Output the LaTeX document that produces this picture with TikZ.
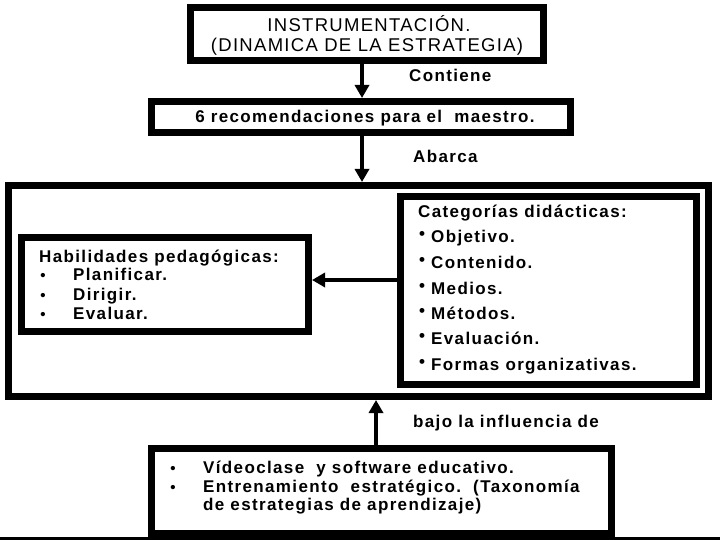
\documentclass[tikz,border=0pt]{standalone}
\usepackage{fontspec}
\setmainfont{Liberation Sans}
\usetikzlibrary{arrows.meta}
\newcommand{\lsp}[1]{\addfontfeatures{LetterSpace=#1}}
\newcommand{\rbul}{\raisebox{3pt}{\textbullet}}
\begin{document}
\begin{tikzpicture}[x=1pt,y=-1pt,
  box/.style={draw=black, line width=7pt, fill=white, rectangle, inner sep=0pt},
  conn/.style={line width=4pt, -{Triangle[length=13pt,width=14pt]}},
  hdr/.style={inner sep=0pt, anchor=base, font=\fontsize{18.5}{20}\selectfont\lsp{7}},
  lbl/.style={inner sep=0pt, anchor=base west, font=\bfseries\fontsize{17}{19}\selectfont\lsp{8}},
  txt/.style={inner sep=0pt, anchor=base west, font=\bfseries\fontsize{17}{19}\selectfont\lsp{8}},
  bul/.style={inner sep=0pt, anchor=base, font=\bfseries\fontsize{15}{18}\selectfont}]
\useasboundingbox (0,0) rectangle (720,540);
\fill[white] (0,0) rectangle (720,540);
% boxes
\node[box, minimum width=353pt, minimum height=53pt] (top) at (367,34) {};
\node[box, minimum width=419pt, minimum height=31pt] (rec) at (361,117) {};
\node[box, minimum width=700pt, minimum height=211pt] (big) at (358.5,291) {};
\node[box, minimum width=287pt, minimum height=94pt] (hab) at (165,284.5) {};
\node[box, minimum width=296pt, minimum height=188pt] (cat) at (548.5,290.5) {};
\node[box, minimum width=460pt, minimum height=85pt] (vid) at (381.5,491) {};
\fill[black] (0,537) rectangle (720,540);
% connector x positions
\coordinate (ax) at (362,0);
\coordinate (bx) at (376,0);
\coordinate (cy) at (0,280);
\draw[conn] (top.south -| ax) -- (rec.north -| ax);
\draw[conn] (rec.south -| ax) -- (big.north -| ax);
\draw[conn] (cat.west |- cy) -- (hab.east |- cy);
\draw[conn] (vid.north -| bx) -- (big.south -| bx);
% top texts
\node[hdr] (t1) at (369,32) {INSTRUMENTACIÓN.};
\node[hdr] (t2) at (367,52) {(DINAMICA DE LA ESTRATEGIA)};
\node[txt, anchor=base] (r1) at (365,123) {6 recomendaciones para el\ \ maestro.};
\node[lbl] (l1) at (409,82) {Contiene};
\node[lbl] (l2) at (413,163) {Abarca};
\node[lbl] (l3) at (413,427) {bajo la influencia de};
% left box
\node[txt] (h0) at (39,262) {Habilidades pedagógicas:};
\node[bul] (hb1) at (43,280) {\textbullet};
\node[bul] (hb2) at (43,300) {\textbullet};
\node[bul] (hb3) at (43,319) {\textbullet};
\node[txt] (h1) at (73,280) {Planificar.};
\node[txt] (h2) at (73,300) {Dirigir.};
\node[txt] (h3) at (73,319) {Evaluar.};
% right box
\node[txt] (c0) at (418,218) {Categorías didácticas:};
\node[txt] (c1) at (419,243) {\rbul\ Objetivo.};
\node[txt] (c2) at (419,268) {\rbul\ Contenido.};
\node[txt] (c3) at (419,294) {\rbul\ Medios.};
\node[txt] (c4) at (419,319) {\rbul\ Métodos.};
\node[txt] (c5) at (419,344) {\rbul\ Evaluación.};
\node[txt] (c6) at (419,370) {\rbul\ Formas\ organizativas.};
% bottom box
\node[bul] (vb1) at (173,473) {\textbullet};
\node[bul] (vb2) at (173,492) {\textbullet};
\node[txt] (v1) at (203,473) {Vídeoclase\ \ y software educativo.};
\node[txt] (v2) at (203,492) {Entrenamiento\ \ estratégico.\ \ (Taxonomía};
\node[txt] (v3) at (203,510) {de estrategias de aprendizaje)};
\end{tikzpicture}
\end{document}
